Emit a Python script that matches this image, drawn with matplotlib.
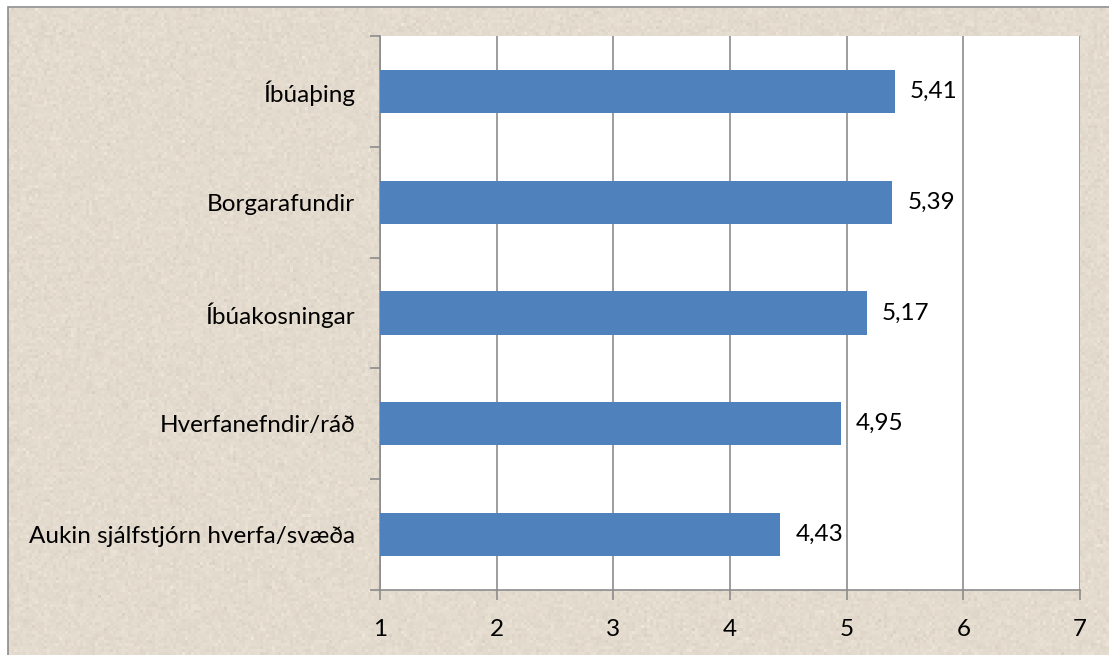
import numpy as np
import matplotlib
matplotlib.use('Agg')
import matplotlib.pyplot as plt
from matplotlib.patches import Rectangle

categories = ['Íbúaþing', 'Borgarafundir', 'Íbúakosningar', 'Hverfanefndir/ráð',
              'Aukin sjálfstjórn hverfa/svæða']
values = [5.41, 5.39, 5.17, 4.95, 4.43]
xticks = [1, 2, 3, 4, 5, 6, 7]

plt.rcParams['font.family'] = ['Lato', 'DejaVu Sans']
FS = 17.5

W, H = 1109, 655
fig = plt.figure(figsize=(W / 100, H / 100), dpi=100)
fig.patch.set_facecolor('white')

# parchment texture behind everything
bg = fig.add_axes([8 / W, 0, 1 - 8 / W, 1 - 8 / H], zorder=0)
rng = np.random.default_rng(3)
h, w = 216, 367
base = np.array([0.893, 0.860, 0.808])
noise = rng.normal(0, 0.013, (h, w, 1))
tex = np.clip(base + noise, 0, 1)
bg.imshow(tex, aspect='auto', interpolation='nearest', extent=[0, 1, 0, 1])
bg.set_axis_off()

# thin frame around the chart
fig.patches.append(Rectangle((7.5 / W, -0.01), 1.02, 1 - 7.5 / H + 0.01,
                             transform=fig.transFigure, fill=False,
                             edgecolor='#8c8c8c', linewidth=1.2, zorder=1))

left, right, top, bottom = 380, 1080, 36, 590
ax = fig.add_axes([left / W, 1 - bottom / H, (right - left) / W, (bottom - top) / H], zorder=2)
ax.set_facecolor('white')

n = len(categories)
y = np.arange(n)[::-1]
ax.barh(y, values, height=0.39, left=0, color='#4F81BD', zorder=3)
for yi, v in zip(y, values):
    ax.text(v + 0.13, yi, f'{v:.2f}'.replace('.', ','), va='center', ha='left',
            fontsize=FS, color='black', zorder=4)

ax.set_xlim(1, 7)
ax.set_ylim(-0.5, n - 0.5)
ax.set_xticks(xticks)
ax.set_xticklabels([str(t) for t in xticks], fontsize=FS)
ax.set_yticks(y)
ax.set_yticklabels(categories, fontsize=FS)
ax.set_yticks(np.arange(-0.5, n, 1), minor=True)
ax.tick_params(axis='y', which='major', length=0, pad=18)
ax.tick_params(axis='y', which='minor', length=7, color='#8c8c8c', width=1.2)
ax.tick_params(axis='x', length=7, color='#8c8c8c', width=1.2, pad=14)
ax.grid(axis='x', color='#8c8c8c', linewidth=1.2, zorder=1)
ax.set_axisbelow(True)
for s in ['top', 'right']:
    ax.spines[s].set_visible(False)
for s in ['left', 'bottom']:
    ax.spines[s].set_color('#8c8c8c')
    ax.spines[s].set_linewidth(1.2)

fig.savefig('out.png', dpi=100)
